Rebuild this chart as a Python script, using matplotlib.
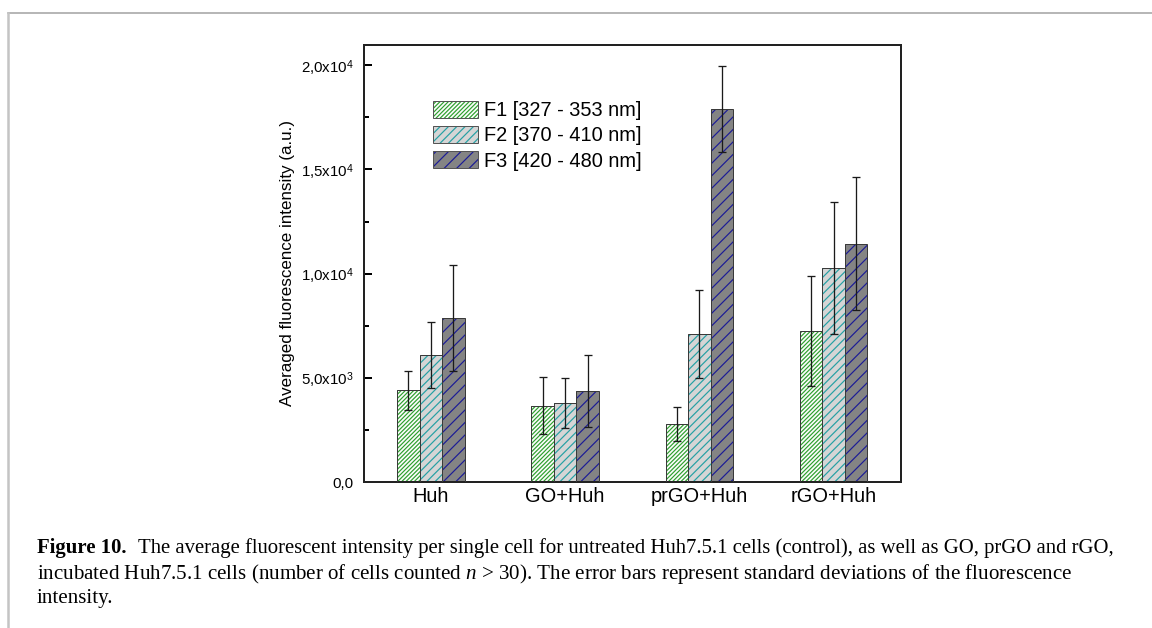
import numpy as np
import matplotlib.pyplot as plt
from matplotlib.lines import Line2D
from matplotlib.patches import Patch
from matplotlib.legend_handler import HandlerTuple

# data
groups = ['Huh', 'GO+Huh', 'prGO+Huh', 'rGO+Huh']
series = ['F1 [327 - 353 nm]', 'F2 [370 - 410 nm]', 'F3 [420 - 480 nm]']
f1_mean = [4400, 3660, 2800, 7250]
f1_err = [950, 1360, 820, 2630]
f2_mean = [6100, 3790, 7090, 10270]
f2_err = [1600, 1180, 2110, 3180]
f3_mean = [7870, 4370, 17900, 11440]
f3_err = [2560, 1710, 2070, 3200]
yticks = [0, 5000, 10000, 15000, 20000]
ytick_labels = ['0,0', r'5,0x10$^{3}$', r'1,0x10$^{4}$', r'1,5x10$^{4}$', r'2,0x10$^{4}$']

DPI = 75
PX = 72.0 / DPI  # points per pixel

plt.rcParams['font.family'] = ['Liberation Sans', 'DejaVu Sans']
plt.rcParams['mathtext.fontset'] = 'custom'
plt.rcParams['mathtext.rm'] = 'Liberation Sans'
plt.rcParams['mathtext.it'] = 'Liberation Serif:italic'
plt.rcParams['hatch.linewidth'] = 1.2 * PX

fig = plt.figure(figsize=(1152 / DPI, 628 / DPI), dpi=DPI)
ax = fig.add_axes([363.7 / 1152, 1 - 482 / 628, 537 / 1152, 437 / 628])

means = [f1_mean, f2_mean, f3_mean]
errs = [f1_err, f2_err, f3_err]
faces = ['#fcfcfc', '#d5d5d5', '#848484']
hatch_cols = ['#2fa02f', '#25a0a4', '#1c1c96']
hatches = ['//////', '///', '//']

x = np.arange(1, len(groups) + 1)
w = 0.1673
for i in range(3):
    pos = x + (i - 1) * w
    # hatch layer, then outline on top
    ax.bar(pos, means[i], w, color=faces[i], edgecolor=hatch_cols[i],
           hatch=hatches[i], linewidth=0, zorder=2)
    ax.bar(pos, means[i], w, fill=False, edgecolor='#3a3a3a',
           linewidth=1.0 * PX, zorder=3)
    ax.errorbar(pos, means[i], yerr=errs[i], fmt='none', ecolor='#1a1a1a',
                elinewidth=1.3 * PX, capsize=4 * PX, capthick=1.3 * PX, zorder=4)

ax.set_xlim(0.5, 4.5)
ax.set_ylim(0, 20975)
ax.set_xticks(x)
ax.set_xticklabels(groups, fontsize=20 * PX)
ax.set_yticks(yticks)
ax.set_yticklabels(ytick_labels, fontsize=15 * PX)
ax.set_yticks([2500, 7500, 12500, 17500], minor=True)
ax.tick_params(axis='y', which='major', direction='in', length=8 * PX,
               width=2 * PX, pad=10 * PX, right=False)
ax.tick_params(axis='y', which='minor', direction='in', length=4.5 * PX,
               width=2 * PX, right=False)
ax.tick_params(axis='x', length=0, pad=5 * PX)
for s in ax.spines.values():
    s.set_linewidth(2 * PX)
    s.set_color('#222222')

ax.set_ylabel('Averaged fluorescence intensity (a.u.)', fontsize=17 * PX, labelpad=6 * PX)

# legend swatch = hatched patch + outline patch stacked
leg_handles = []
for i in range(3):
    fillp = Patch(facecolor=faces[i], edgecolor=hatch_cols[i], hatch=hatches[i], linewidth=0)
    edgep = Patch(fill=False, edgecolor='#555555', linewidth=1.0 * PX)
    leg_handles.append((fillp, edgep))
leg = ax.legend(leg_handles, series, loc='upper left',
                bbox_to_anchor=((433 - 363.7) / 537, (482 - 101) / 437),
                frameon=False, fontsize=20 * PX, handlelength=2.25,
                handleheight=0.9, handletextpad=0.3, labelspacing=0.3,
                borderpad=0, borderaxespad=0,
                handler_map={tuple: HandlerTuple(ndivide=1, pad=0)})

# page frame lines
fig.add_artist(Line2D([8 / 1152, 1], [1 - 13 / 628] * 2, color='#a0a0a0', lw=1.5 * PX))
fig.add_artist(Line2D([8 / 1152] * 2, [1 - 13 / 628, 0], color='#c4c4c4', lw=2.5 * PX))

# caption
cap = dict(family='Liberation Serif', va='center', ha='left')
fig.text(37 / 1152, 1 - 548 / 628, 'Figure 10.', fontweight='bold', fontsize=20.7 * PX, **cap)
fig.text(138 / 1152, 1 - 548 / 628,
         'The average fluorescent intensity per single cell for untreated Huh7.5.1 cells '
         '(control), as well as GO, prGO and rGO,', fontsize=20.7 * PX, **cap)
fig.text(37 / 1152, 1 - 574 / 628,
         r'incubated Huh7.5.1 cells (number of cells counted $n$ > 30). The error bars '
         'represent standard deviations of the fluorescence', fontsize=21 * PX, **cap)
fig.text(37 / 1152, 1 - 599 / 628, 'intensity.', fontsize=21 * PX, **cap)

fig.savefig('out.png', dpi=DPI, facecolor='white')
